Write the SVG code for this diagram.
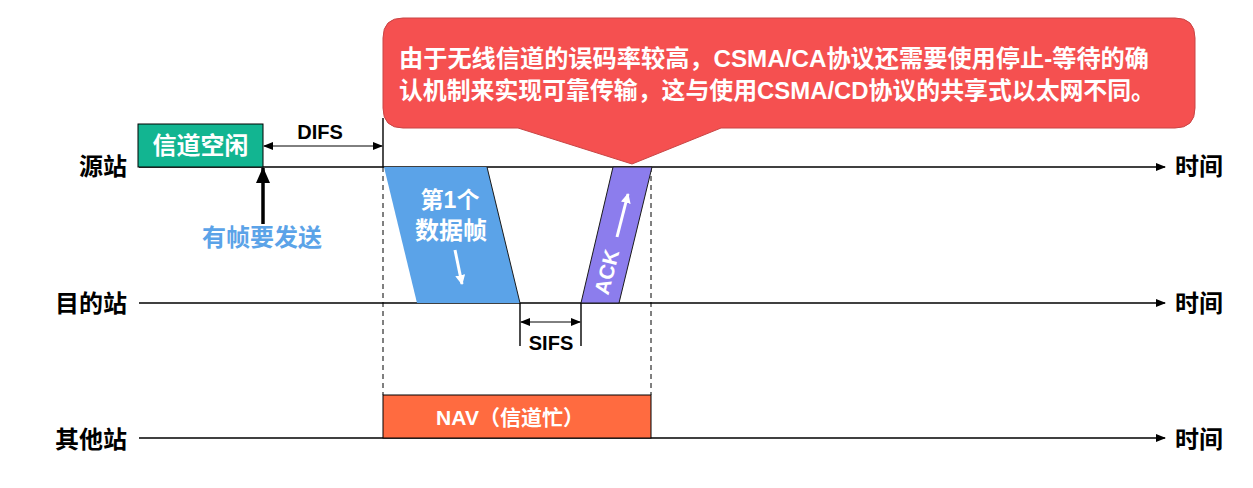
<svg xmlns="http://www.w3.org/2000/svg" width="1253" height="488" viewBox="0 0 1253 488">
<defs>
<marker id="ah" markerWidth="10" markerHeight="8" refX="9" refY="4" orient="auto" markerUnits="userSpaceOnUse">
<path d="M0,0 L10,4 L0,8 Z" fill="#000"/>
</marker>
<marker id="ahs" markerWidth="10" markerHeight="8" refX="1" refY="4" orient="auto" markerUnits="userSpaceOnUse">
<path d="M10,0 L0,4 L10,8 Z" fill="#000"/>
</marker>
<marker id="ahb" markerWidth="16" markerHeight="14" refX="15" refY="7" orient="auto" markerUnits="userSpaceOnUse">
<path d="M0,0 L16,7 L0,14 Z" fill="#000"/>
</marker>
<marker id="ahw" markerWidth="10" markerHeight="10" refX="9" refY="5" orient="auto" markerUnits="userSpaceOnUse">
<path d="M0,0 L10,5 L0,10 Z" fill="#fff"/>
</marker>
</defs>
<style>
text{font-family:"Liberation Sans","Noto Sans CJK SC",sans-serif;font-weight:bold;}
.lab{font-size:24px;fill:#000;}
.wt{fill:#fff;}
.ln{stroke:#000;stroke-width:1.4;fill:none;}
.dash{stroke:#000;stroke-width:1;stroke-dasharray:5,4;fill:none;}
</style>

<g id="connectors">
<line class="ln" x1="139" y1="167" x2="1165" y2="167" marker-end="url(#ah)"/>
<line class="ln" x1="139" y1="303" x2="1165" y2="303" marker-end="url(#ah)"/>
<line class="ln" x1="139" y1="438" x2="1165" y2="438" marker-end="url(#ah)"/>
<line class="ln" x1="383" y1="118" x2="383" y2="167"/>
<line class="dash" x1="383" y1="167" x2="383" y2="395"/>
<line class="dash" x1="651" y1="167" x2="651" y2="395"/>
<line stroke="#000" stroke-width="1" x1="264" y1="146" x2="382" y2="146" marker-start="url(#ahs)" marker-end="url(#ah)"/>
<line class="ln" x1="520" y1="303" x2="520" y2="346"/>
<line class="ln" x1="581" y1="303" x2="581" y2="346"/>
<line stroke="#000" stroke-width="1" x1="521" y1="322" x2="580" y2="322" marker-start="url(#ahs)" marker-end="url(#ah)"/>
<line stroke="#000" stroke-width="3.5" x1="263" y1="224" x2="263" y2="168" marker-end="url(#ahb)"/>
</g>

<g id="labels">
<text class="lab" x="127" y="175" text-anchor="end">源站</text>
<text class="lab" x="127" y="312" text-anchor="end">目的站</text>
<text class="lab" x="127" y="448" text-anchor="end">其他站</text>
<text class="lab" x="1175" y="175">时间</text>
<text class="lab" x="1175" y="312">时间</text>
<text class="lab" x="1175" y="448">时间</text>
<text x="320" y="139" font-size="20" text-anchor="middle">DIFS</text>
<text x="551" y="350" font-size="20" text-anchor="middle">SIFS</text>
<text x="262" y="246" font-size="24" fill="#5ba3e8" text-anchor="middle">有帧要发送</text>
</g>

<g id="idle">
<rect x="138" y="124" width="125" height="43" fill="#12b591" stroke="#000" stroke-width="1"/>
<text class="wt" x="200.5" y="154" font-size="24" text-anchor="middle">信道空闲</text>
</g>

<g id="dataframe">
<polygon points="384,167 487,167 520,303 417,303" fill="#5ba3e8"/>
<line x1="487" y1="167" x2="520" y2="303" stroke="#1a1a1a" stroke-width="1"/>
<text class="wt" x="450" y="208" font-size="23" text-anchor="middle">第1个</text>
<text class="wt" x="451" y="239" font-size="24" text-anchor="middle">数据帧</text>
<line stroke="#fff" stroke-width="3" x1="455" y1="250" x2="462" y2="284" marker-end="url(#ahw)"/>
</g>

<g id="ack">
<polygon points="613,167 652,167 619,303 581,303" fill="#8c7ded" stroke="#1a1a1a" stroke-width="1"/>
<text class="wt" x="607" y="279" font-size="21" text-anchor="middle" transform="rotate(-76 607 272)">ACK</text>
<line stroke="#fff" stroke-width="3" x1="617" y1="237" x2="628" y2="194" marker-end="url(#ahw)"/>
</g>

<g id="nav">
<rect x="383" y="395" width="268" height="43" fill="#ff6b40" stroke="#000" stroke-width="1"/>
<text class="wt" x="510" y="425" font-size="21" text-anchor="middle">NAV（信道忙）</text>
</g>

<g id="callout">
<path d="M403,18 H1175 Q1195,18 1195,38 V108 Q1195,128 1175,128 H721 L632,164 L518,128 H403 Q383,128 383,108 V38 Q383,18 403,18 Z" fill="#f55050" stroke="#c94545" stroke-width="1"/>
<text class="wt" x="399" y="67" font-size="24" textLength="750" lengthAdjust="spacingAndGlyphs">由于无线信道的误码率较高，CSMA/CA协议还需要使用停止-等待的确</text>
<text class="wt" x="399" y="99" font-size="24" textLength="756" lengthAdjust="spacingAndGlyphs">认机制来实现可靠传输，这与使用CSMA/CD协议的共享式以太网不同。</text>
</g>
</svg>
